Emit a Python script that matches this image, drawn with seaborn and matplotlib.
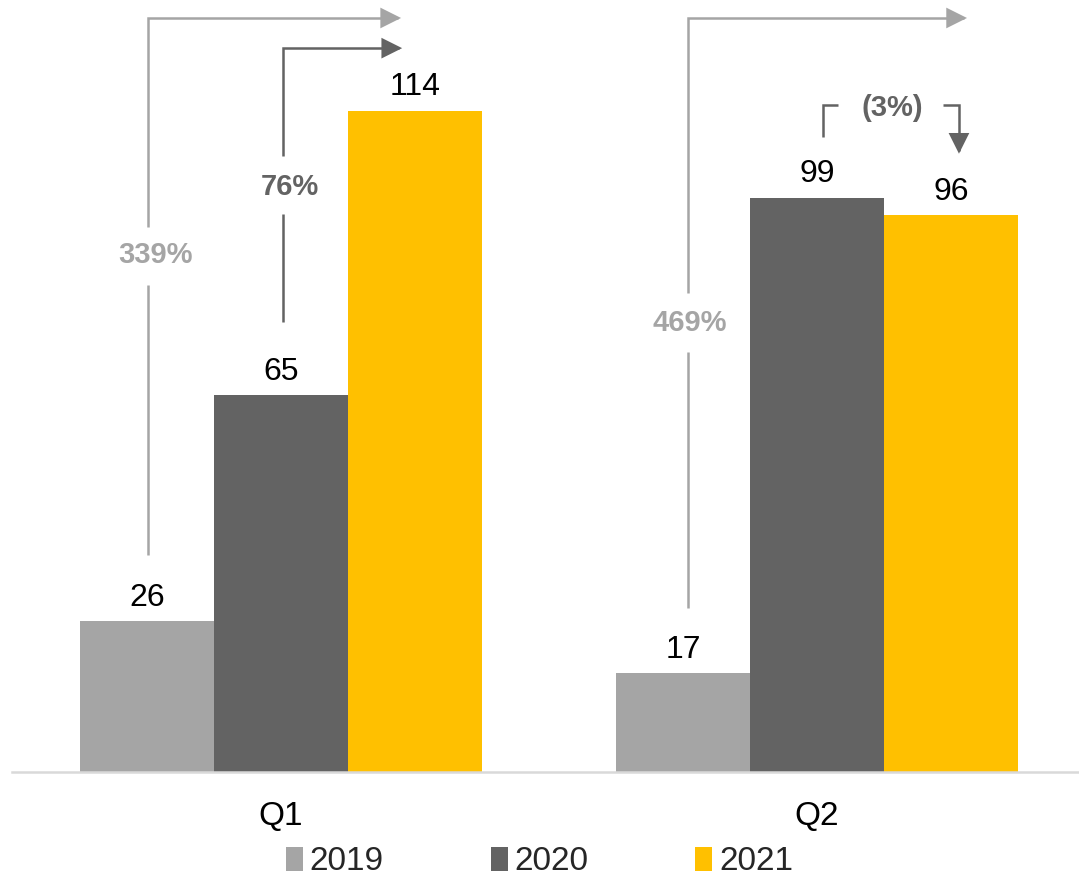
import matplotlib
matplotlib.use("Agg")
import matplotlib.pyplot as plt
import matplotlib.patches as mpatches
from matplotlib.path import Path
import seaborn as sns
import pandas as pd

# ---- data ----
categories = ["Q1", "Q2"]
years = ["2019", "2020", "2021"]
values_2019 = [26, 17]
values_2020 = [65, 99]
values_2021 = [114, 96]
growth_labels = ["339%", "76%", "469%", "(3%)"]

colors = ["#a5a5a5", "#636363", "#ffc000"]
light_line = "#a5a5a5"
dark_line = "#636363"

rows = []
for yr, vals in zip(years, [values_2019, values_2020, values_2021]):
    for cat, v in zip(categories, vals):
        rows.append({"quarter": cat, "year": yr, "value": v})
df = pd.DataFrame(rows)

sns.set_theme(style="white")
plt.rcParams["font.family"] = ["Liberation Sans", "DejaVu Sans"]

W, H = 1079, 881
fig = plt.figure(figsize=(W / 100, H / 100), dpi=100)
ax = fig.add_axes([12 / W, (H - 772) / H, 1 - 12 / W, 772 / H])

sns.barplot(data=df, x="quarter", y="value", hue="year", order=categories,
            hue_order=years, palette=colors, width=0.75, saturation=1,
            dodge=True, ax=ax, legend=False, errorbar=None, linewidth=0)

for cont in ax.containers:
    ax.bar_label(cont, padding=6, fontsize=23, color="black")

ax.set_xlim(-0.502, 1.489)
ax.set_ylim(0, 133.1)
ax.set_xlabel("")
ax.set_ylabel("")
ax.set_yticks([])
ax.tick_params(axis="x", length=0, pad=21, labelsize=24, labelcolor="black")
for s in ["left", "right", "top"]:
    ax.spines[s].set_visible(False)
ax.spines["bottom"].set_color("#d9d9d9")
ax.spines["bottom"].set_linewidth(1.8)

lw = 1.8
head = "-|>,head_length=1.0,head_width=0.5"


def path(xs, ys, color):
    ax.plot(xs, ys, color=color, lw=lw, solid_capstyle="butt",
            solid_joinstyle="miter", clip_on=False)


def arrow_path(xs, ys, color):
    p = Path(list(zip(xs, ys)))
    a = mpatches.FancyArrowPatch(path=p, arrowstyle=head, color=color,
                                 lw=lw, joinstyle="miter", capstyle="butt",
                                 mutation_scale=12, clip_on=False)
    ax.add_patch(a)


# 339% : Q1 2019 -> Q1 2021
path([-0.248, -0.248], [37.4, 84.0], light_line)
arrow_path([-0.248, -0.248, 0.224], [94.0, 130.0, 130.0], light_line)
ax.text(-0.235, 89.1, growth_labels[0], color=light_line, fontsize=21,
        fontweight="bold", ha="center", va="center")

# 76% : Q1 2020 -> Q1 2021
path([0.004, 0.004], [77.6, 96.2], dark_line)
arrow_path([0.004, 0.004, 0.226], [106.2, 124.8, 124.8], dark_line)
ax.text(0.017, 100.9, growth_labels[1], color=dark_line, fontsize=21,
        fontweight="bold", ha="center", va="center")

# 469% : Q2 2019 -> Q2 2021
path([0.759, 0.759], [28.3, 72.4], light_line)
arrow_path([0.759, 0.759, 1.280], [82.6, 130.0, 130.0], light_line)
ax.text(0.763, 77.4, growth_labels[2], color=light_line, fontsize=21,
        fontweight="bold", ha="center", va="center")

# (3%) : Q2 2020 -> Q2 2021
path([1.011, 1.011, 1.039], [109.5, 115.0, 115.0], dark_line)
arrow_path([1.235, 1.265, 1.265], [115.0, 115.0, 106.6], dark_line)
ax.text(1.140, 114.5, growth_labels[3], color=dark_line, fontsize=21,
        fontweight="bold", ha="center", va="center")

handles = [mpatches.Patch(facecolor=c, edgecolor="none", label=y)
           for c, y in zip(colors, years)]
fig.legend(handles=handles, loc="center", bbox_to_anchor=(0.5, 0.0216),
           bbox_transform=fig.transFigure, ncol=3, frameon=False,
           fontsize=24, handlelength=0.51, handleheight=0.75,
           handletextpad=0.21, columnspacing=3.2, borderpad=0.0)

fig.savefig("out.png", dpi=100)
